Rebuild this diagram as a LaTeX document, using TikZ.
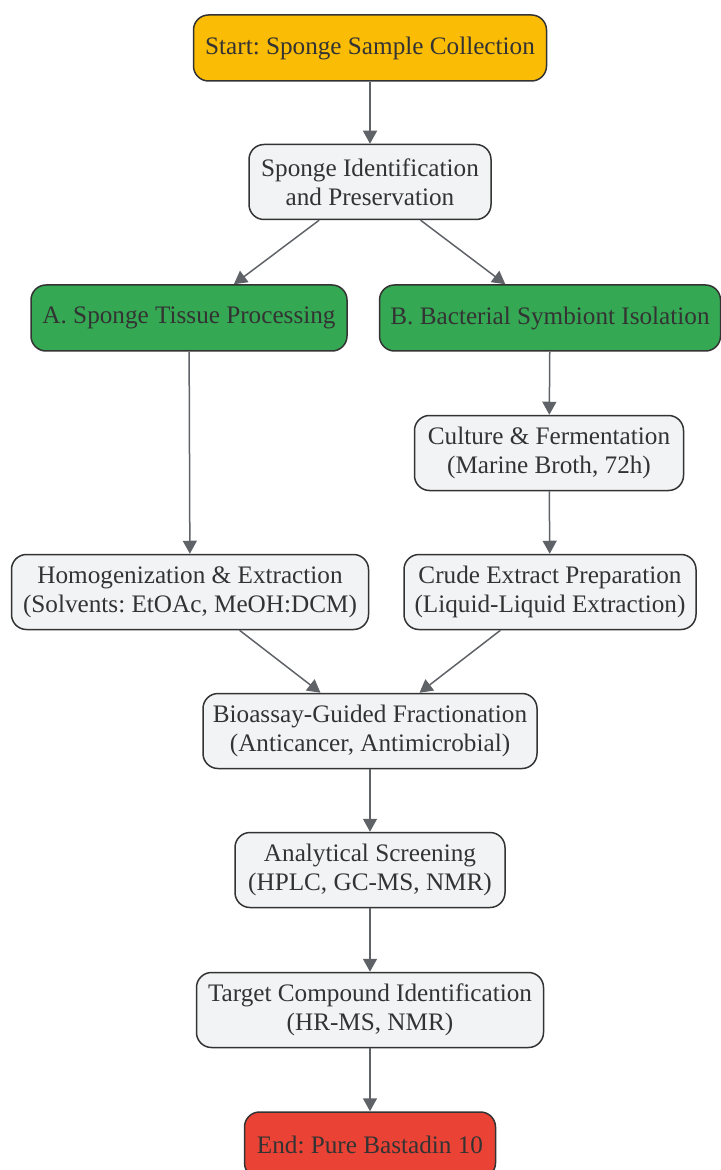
\documentclass[tikz,border=0pt]{standalone}
\usepackage{fontspec}
\setmainfont{Liberation Serif}
\usepackage{xcolor}
\usetikzlibrary{arrows.meta,positioning}
\frenchspacing

\definecolor{startcol}{HTML}{FBBC05}
\definecolor{branchcol}{HTML}{34A853}
\definecolor{endcol}{HTML}{EA4335}
\definecolor{stepcol}{HTML}{F1F3F4}
\definecolor{edgecol}{HTML}{333333}
\definecolor{arrowcol}{HTML}{5F6368}

\tikzset{
  box/.style={draw=edgecol, line width=0.75pt, rounded corners=7.5pt,
    fill=stepcol, text=edgecol, align=center, minimum height=37.5pt,
    inner xsep=4pt, font=\fontsize{12.6}{14.5}\selectfont},
  startbox/.style={box, fill=startcol, minimum height=33pt},
  branchbox/.style={box, fill=branchcol, minimum height=33pt},
  endbox/.style={box, fill=endcol, minimum height=33pt},
  flow/.style={draw=arrowcol, line width=0.75pt,
    -{Triangle[length=6.5pt,width=7pt]}}
}

\begin{document}
\begin{tikzpicture}[x=0.5pt,y=-0.5pt]
  \useasboundingbox (0,0) rectangle (721,1170);

  \node[startbox, minimum width=176.5pt] (start) at (370,48) {Start: Sponge Sample Collection};
  \node[box, minimum width=121pt] (ident) at (370,182) {Sponge Identification\\and Preservation};
  \node[branchbox, minimum width=158pt] (tissue) at (189,318) {A. Sponge Tissue Processing};
  \node[branchbox, minimum width=170.5pt] (symb) at (550,318) {B. Bacterial Symbiont Isolation};
  \node[box, minimum width=134.5pt] (culture) at (549,453) {Culture \& Fermentation\\(Marine Broth, 72h)};
  \node[box, minimum width=178.5pt] (homog) at (190,592) {Homogenization \& Extraction\\(Solvents: EtOAc, MeOH:DCM)};
  \node[box, minimum width=146pt] (crude) at (550,592) {Crude Extract Preparation\\(Liquid-Liquid Extraction)};
  \node[box, minimum width=167pt] (bioassay) at (370,731) {Bioassay-Guided Fractionation\\(Anticancer, Antimicrobial)};
  \node[box, minimum width=135pt] (screen) at (370,870) {Analytical Screening\\(HPLC, GC-MS, NMR)};
  \node[box, minimum width=173.5pt] (target) at (370,1010) {Target Compound Identification\\(HR-MS, NMR)};
  \node[endbox, minimum width=125.5pt] (finish) at (370,1145) {End: Pure Bastadin 10};

  % main line and the two branches
  \draw[flow] (start) -- (ident);
  \draw[flow] (ident) -- (tissue);
  \draw[flow] (ident) -- (symb);
  \draw[flow] (tissue) -- (homog);
  \draw[flow] (symb) -- (culture);
  \draw[flow] (culture) -- (crude);
  \draw[flow] (homog) -- (bioassay);
  \draw[flow] (crude) -- (bioassay);
  \draw[flow] (bioassay) -- (screen);
  \draw[flow] (screen) -- (target);
  \draw[flow] (target) -- (finish);

\end{tikzpicture}
\end{document}
